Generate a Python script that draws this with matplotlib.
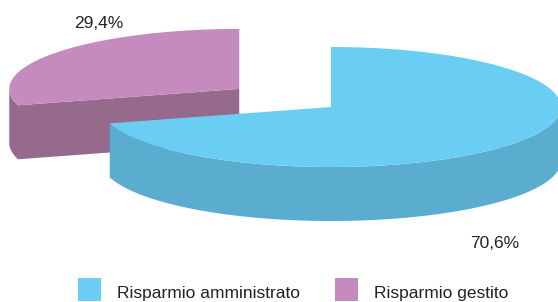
import numpy as np
import matplotlib

matplotlib.use("Agg")
import matplotlib.pyplot as plt
from matplotlib.patches import Polygon, Rectangle

plt.rcParams["font.family"] = ["Liberation Sans", "DejaVu Sans"]

# data
labels = ["Risparmio amministrato", "Risparmio gestito"]
shares = [70.6, 29.4]
top_colors = ["#6acef4", "#c68bbe"]
side_colors = ["#5badcf", "#956a8d"]
explode = [0.0, 0.5]

# pie geometry in pixels (y grows downward)
CX, CY = 331, 107
A, B = 230, 60
DEPTH = 54


def rim(cx, cy, t):
    t = np.radians(t)
    return np.column_stack([cx + A * np.cos(t), cy - B * np.sin(t)])


fig = plt.figure(figsize=(5.58, 3.02), dpi=100)
ax = fig.add_axes([0, 0, 1, 1])
ax.set_xlim(0, 558)
ax.set_ylim(302, 0)
ax.axis("off")

# slices go clockwise from 12 o'clock
angles = 90 - 360 * np.cumsum([0] + shares) / sum(shares)
slices = []
for i in range(len(shares)):
    t_start, t_end = angles[i], angles[i + 1]
    mid = np.radians((t_start + t_end) / 2)
    cx = CX + explode[i] * A * np.cos(mid)
    cy = CY - explode[i] * B * np.sin(mid)
    slices.append((i, t_start, t_end, cx, cy))

# draw back slice (purple) first, then the front one
for i, t_start, t_end, cx, cy in sorted(slices, key=lambda s: s[4]):
    lo, hi = t_end, t_start  # ccw range
    # visible front wall: part of arc between 180 and 360 deg (mod 360)
    for shift in (0, 360, -360):
        a0 = max(lo + shift, 180)
        a1 = min(hi + shift, 360)
        if a1 > a0:
            pts = rim(cx, cy, np.linspace(a0, a1, 120))
            wall = np.vstack([pts, pts[::-1] + [0, DEPTH]])
            ax.add_patch(Polygon(wall, closed=True, fc=side_colors[i], ec="none"))
    # cut faces facing the viewer
    for t, sign in ((lo, -1), (hi, 1)):
        normal = np.radians(t + sign * 90)
        if np.sin(normal) < -1e-6:
            p = rim(cx, cy, [t])[0]
            face = [(cx, cy), tuple(p), (p[0], p[1] + DEPTH), (cx, cy + DEPTH)]
            ax.add_patch(Polygon(face, closed=True, fc=side_colors[i], ec="none"))
    # top face
    arc = rim(cx, cy, np.linspace(lo, hi, 240))
    top = np.vstack([[cx, cy], arc])
    ax.add_patch(Polygon(top, closed=True, fc=top_colors[i], ec="none"))

# percentage labels
label_pos = [(495, 243), (99, 23)]
for (x, y), v in zip(label_pos, shares):
    ax.text(x, y, f"{v:.1f}%".replace(".", ","), ha="center", va="center",
            fontsize=12.5, color="#222222")

# legend
legend_x = [78, 335]
for x, lab, col in zip(legend_x, labels, top_colors):
    ax.add_patch(Rectangle((x, 278), 23, 23, fc=col, ec="none"))
    ax.text(x + 39, 298, lab, ha="left", va="baseline", fontsize=12.5, color="#222222")

fig.savefig("out.png", dpi=100)
